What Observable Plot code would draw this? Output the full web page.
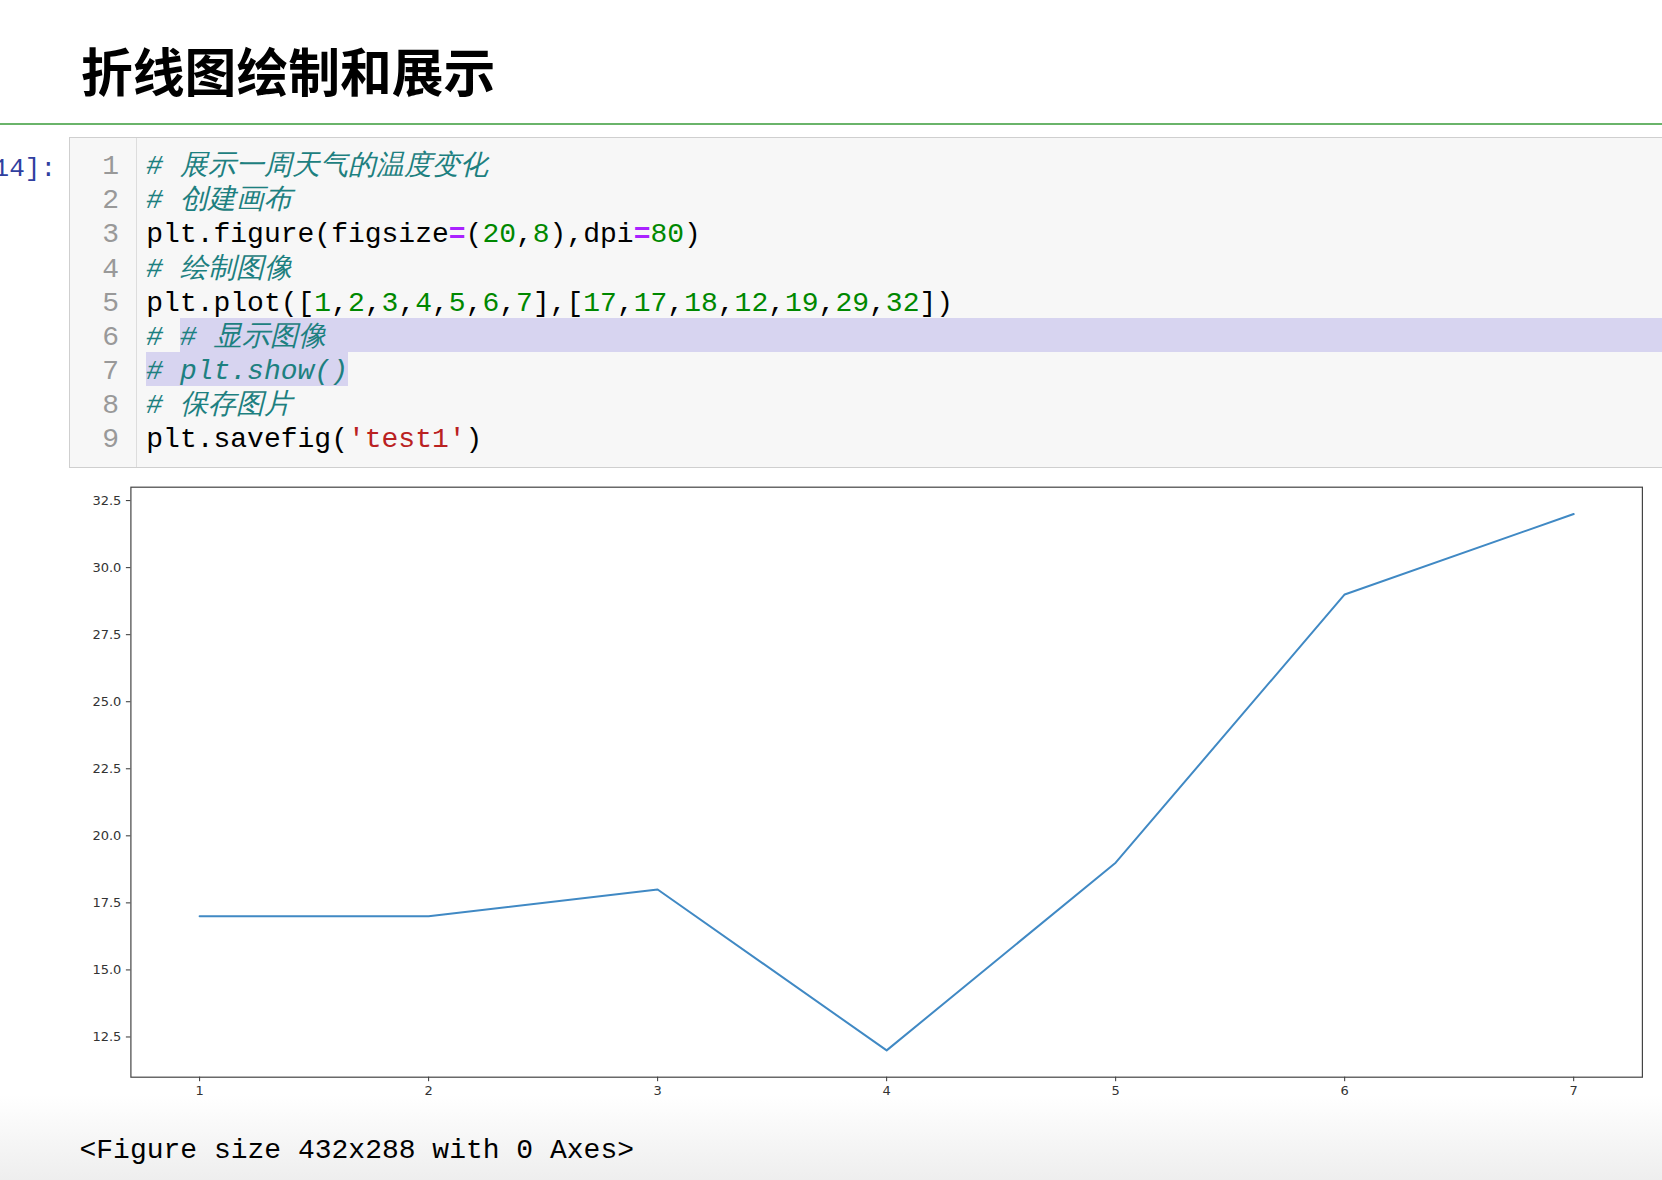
<!DOCTYPE html>
<html>
<head>
<meta charset="utf-8">
<script src="https://cdn.jsdelivr.net/npm/d3@7"></script>
<script src="https://cdn.jsdelivr.net/npm/@observablehq/plot@0.6"></script>
<style>
  html, body { margin: 0; padding: 0; }
  body {
    width: 1662px; height: 1180px; overflow: hidden; position: relative;
    background: linear-gradient(to bottom, #ffffff 0px, #ffffff 1095px, #eeeeee 1180px);
  }
  .title {
    position: absolute; left: 81px; top: 44px; margin: 0;
    font-family: "Noto Sans CJK SC", sans-serif; font-weight: 700;
    font-size: 51.8px; line-height: 1; color: #000; white-space: nowrap;
  }
  .rule { position: absolute; left: 0; top: 123px; width: 1662px; height: 2px; background: #6ab46a; }
  .prompt {
    position: absolute; right: calc(1662px - 56px); top: 152px;
    font-family: "Liberation Mono", monospace; font-size: 26px; line-height: 34px;
    color: #303F9F; white-space: pre;
  }
  .cell {
    position: absolute; left: 69px; top: 137px; width: 1640px; height: 331px;
    background: #f7f7f7; border: 1px solid #cfcfcf; box-sizing: border-box;
  }
  .gutter {
    position: absolute; left: 69px; top: 138px; width: 67px; height: 329px;
    border-right: 1px solid #dddddd;
  }
  .sel { position: absolute; background: #d7d4f0; }
  .code, .nums {
    position: absolute; top: 150.3px;
    font-family: "Liberation Mono", monospace; font-size: 28px; line-height: 34.1px;
    white-space: pre;
  }
  .code { left: 146.3px; color: #000; }
  .nums { left: 80px; width: 39px; text-align: right; color: #999; }
  .c { color: #1d8080; font-style: italic; }
  .n { color: #008800; }
  .o { color: #AA22FF; font-weight: bold; }
  .s { color: #BA2121; }
  .out {
    position: absolute; left: 79.5px; top: 1134px;
    font-family: "Liberation Mono", monospace; font-size: 28px; line-height: 34px;
    color: #000; white-space: pre;
  }
  #chart { position: absolute; left: 0; top: 456px; }
  #chart svg { background: transparent; }
</style>
</head>
<body>
<h1 class="title">折线图绘制和展示</h1>
<div class="rule"></div>
<div class="prompt">In [14]:</div>
<div class="cell"></div>
<div class="gutter"></div>
<div class="sel" style="left:179.9px; top:317.8px; width:1500px; height:34.1px;"></div>
<div class="sel" style="left:146.3px; top:351.9px; width:201.6px; height:34.1px;"></div>
<div class="nums">1
2
3
4
5
6
7
8
9</div>
<div class="code"><span class="c"># 展示一周天气的温度变化</span>
<span class="c"># 创建画布</span>
plt.figure(figsize<span class="o">=</span>(<span class="n">20</span>,<span class="n">8</span>),dpi<span class="o">=</span><span class="n">80</span>)
<span class="c"># 绘制图像</span>
plt.plot([<span class="n">1</span>,<span class="n">2</span>,<span class="n">3</span>,<span class="n">4</span>,<span class="n">5</span>,<span class="n">6</span>,<span class="n">7</span>],[<span class="n">17</span>,<span class="n">17</span>,<span class="n">18</span>,<span class="n">12</span>,<span class="n">19</span>,<span class="n">29</span>,<span class="n">32</span>])
<span class="c"># # 显示图像</span>
<span class="c"># plt.show()</span>
<span class="c"># 保存图片</span>
plt.savefig(<span class="s">'test1'</span>)</div>
<div id="chart"></div>
<div class="out">&lt;Figure size 432x288 with 0 Axes&gt;</div>

<script>
// Data
const days = [1, 2, 3, 4, 5, 6, 7];
const temps = [17, 17, 18, 12, 19, 29, 32];
const xTicks = [1, 2, 3, 4, 5, 6, 7];
const yTicks = [12.5, 15.0, 17.5, 20.0, 22.5, 25.0, 27.5, 30.0, 32.5];

const rows = days.map((d, i) => ({day: d, temp: temps[i]}));

const chart = Plot.plot({
  width: 1662,
  height: 661,
  marginLeft: 130.4,
  marginRight: 20.1,
  marginTop: 30.7,
  marginBottom: 40.3,
  style: {fontFamily: "DejaVu Sans, sans-serif", fontSize: "13px", color: "#333", background: "transparent"},
  x: {domain: [0.7, 7.3], label: null},
  y: {domain: [11, 33], label: null},
  marks: [
    Plot.axisX({ticks: xTicks, tickFormat: d => String(d), tickSize: 4.5, tickPadding: 4, label: null}),
    Plot.axisY({ticks: yTicks, tickFormat: d => d.toFixed(1), tickSize: 4.5, tickPadding: 5, label: null}),
    Plot.line(rows, {x: "day", y: "temp", stroke: "#4089c4", strokeWidth: 2}),
    Plot.frame({stroke: "#444", strokeWidth: 1.2})
  ]
});
document.getElementById("chart").appendChild(chart);
</script>
</body>
</html>
